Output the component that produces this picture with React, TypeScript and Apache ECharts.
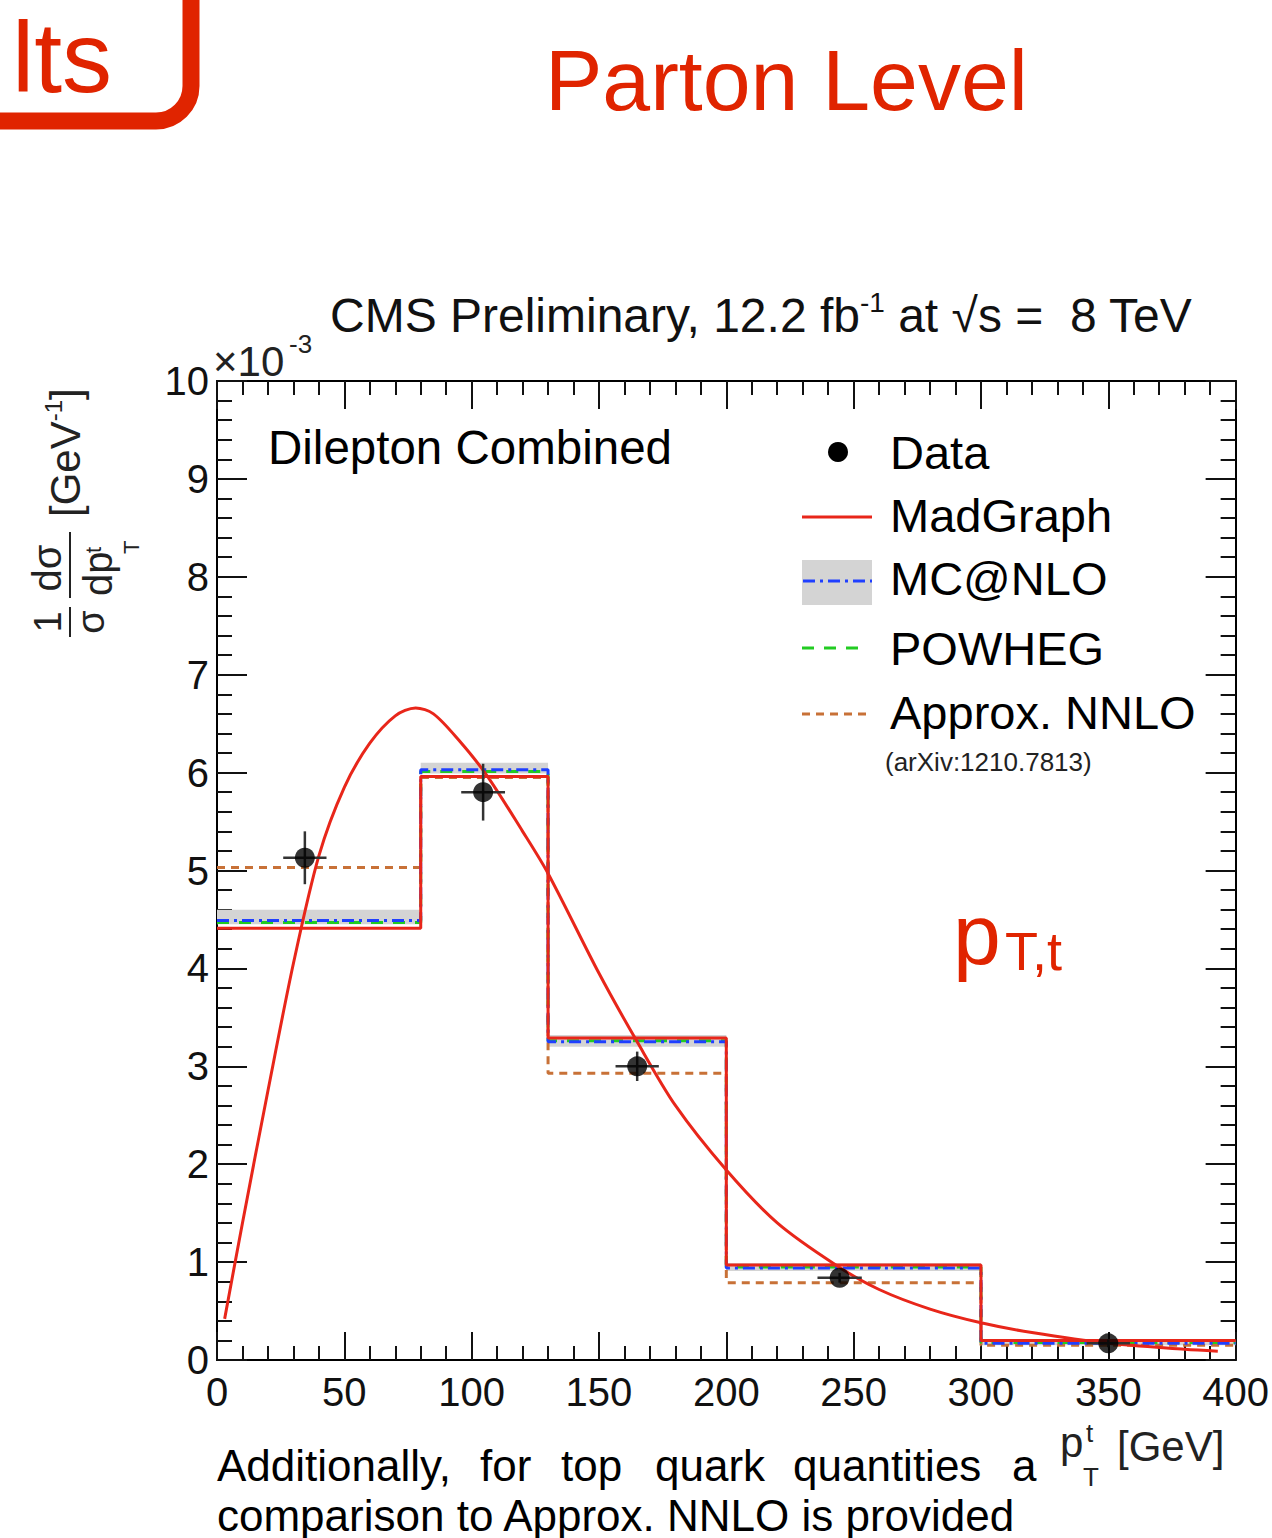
import React, { useEffect, useRef } from "react";
import * as echarts from "echarts";

const FONT = '"Liberation Sans", Arial, Helvetica, sans-serif';
const RED = "#e02400";

// Bin edges in GeV
const binEdges = [0, 80, 130, 200, 300, 400];
// Histogram values (units of 1e-3 GeV^-1)
const madgraphHist = [4.41, 5.96, 3.29, 0.97, 0.2];
const mcnloHist = [4.49, 6.03, 3.25, 0.94, 0.17];
const mcnloBandLo = [4.45, 5.99, 3.2, 0.91, 0.15];
const mcnloBandHi = [4.6, 6.1, 3.32, 0.99, 0.2];
const powhegHist = [4.47, 6.01, 3.26, 0.95, 0.18];
const nnloHist = [5.03, 5.95, 2.93, 0.79, 0.15];

// Data points
const dataX = [34.5, 104.5, 165, 244.5, 350];
const dataY = [5.13, 5.8, 3.0, 0.84, 0.17];
const dataYErr = [0.27, 0.29, 0.15, 0.05, 0.04];
const dataXErr = [8.5, 8.6, 8.5, 8.7, 8.5];

// MadGraph smooth curve
const curveX = [3, 10, 20, 30, 40, 50, 60, 70, 78, 85, 95, 106, 120, 130, 150, 165, 180, 200, 220, 243, 260, 280, 300, 320, 350, 380, 393];
const curveY = [0.42, 1.4, 2.75, 4.05, 5.15, 5.85, 6.3, 6.58, 6.66, 6.6, 6.33, 5.97, 5.4, 4.97, 3.95, 3.25, 2.6, 1.94, 1.4, 0.97, 0.72, 0.52, 0.38, 0.28, 0.17, 0.11, 0.09];

// Axis ticks
const xTicks = { min: 0, max: 400, interval: 50 };
const yTicks = { min: 0, max: 10, interval: 1 };

const stepData = (vals: number[]) =>
  binEdges.map((e, i) => [e, vals[Math.min(i, vals.length - 1)]]);

export default function App() {
  const ref = useRef<HTMLDivElement>(null);
  useEffect(() => {
    if (!ref.current) return;
    const chart = echarts.init(ref.current, null, { renderer: "svg" });

    const axisLine = { show: true, onZero: false, lineStyle: { color: "#000", width: 2 } };
    const tickStyle = { color: "#111", width: 2 };

    const bandData = mcnloBandLo.map((lo, i) => [binEdges[i], binEdges[i + 1], lo, mcnloBandHi[i]]);
    const errData = dataX.map((x, i) => [x, dataY[i], dataXErr[i], dataYErr[i]]);

    const lineSeries = (name: string, vals: number[], color: string, type: any, z: number) => ({
      name,
      type: "line",
      step: "end",
      data: stepData(vals),
      showSymbol: false,
      symbol: "none",
      lineStyle: { color, width: 3, type },
      z,
    });

    const txt = (text: string, x: number, y: number, fontSize: number, extra: any = {}) => ({
      type: "text",
      x,
      y,
      z: 100,
      style: {
        text,
        fontSize,
        fontFamily: FONT,
        fill: "#000",
        align: "left",
        verticalAlign: "middle",
        ...extra,
      },
    });

    const graphic: any[] = [
      // top-left red box fragment
      {
        type: "rect",
        shape: { x: -300, y: -60, width: 491, height: 181, r: 35 },
        style: { fill: "none", stroke: RED, lineWidth: 17 },
      },
      txt("lts", 112, 57, 100, { align: "right", fill: RED }),
      txt("Parton Level", 545, 80, 86, { fill: RED }),
      // title
      {
        type: "text",
        x: 330,
        y: 315,
        style: {
          text: "{n|CMS Preliminary, 12.2 fb}{s|-1}{n| at √s =  8 TeV}",
          verticalAlign: "middle",
          align: "left",
          rich: {
            n: { fontSize: 48, fontFamily: FONT, fill: "#111", lineHeight: 54 },
            s: { fontSize: 28, fontFamily: FONT, fill: "#111", verticalAlign: "top", lineHeight: 54 },
          },
        },
      },
      txt("×10", 213, 361, 42, { fill: "#222" }),
      txt("-3", 289, 344, 26, { fill: "#222" }),
      txt("Dilepton Combined", 268, 447, 47.5),
      // legend
      { type: "circle", shape: { cx: 838, cy: 452, r: 10 }, style: { fill: "#000" } },
      txt("Data", 890, 452, 47),
      { type: "line", shape: { x1: 802, y1: 517, x2: 872, y2: 517 }, style: { stroke: "#e8261a", lineWidth: 3 } },
      txt("MadGraph", 890, 515, 47),
      { type: "rect", shape: { x: 802, y: 560, width: 70, height: 45 }, style: { fill: "#d4d4d4" } },
      { type: "line", shape: { x1: 803, y1: 581, x2: 872, y2: 581 }, style: { stroke: "#1f3fff", lineWidth: 3, lineDash: [12, 5, 3, 5] } },
      txt("MC@NLO", 890, 578, 47),
      { type: "line", shape: { x1: 802, y1: 648, x2: 864, y2: 648 }, style: { stroke: "#22cc22", lineWidth: 3, lineDash: [12, 10] } },
      txt("POWHEG", 890, 648, 47),
      { type: "line", shape: { x1: 802, y1: 714, x2: 868, y2: 714 }, style: { stroke: "#c87137", lineWidth: 3, lineDash: [8, 6] } },
      txt("Approx. NNLO", 890, 712, 47),
      txt("(arXiv:1210.7813)", 885, 762, 26, { fill: "#222" }),
      // p_T,t annotation
      txt("p", 953, 934, 86, { fill: RED }),
      txt("T,t", 1005, 951, 54, { fill: RED }),
      // x axis title
      txt("p", 1060, 1442, 42, { fill: "#222" }),
      txt("t", 1086, 1433, 26, { fill: "#222" }),
      txt("T", 1083, 1477, 26, { fill: "#222" }),
      txt("[GeV]", 1117, 1446, 42, { fill: "#222" }),
      // y axis title (rotated group)
      {
        type: "group",
        x: 70,
        y: 640,
        rotation: Math.PI / 2,
        children: [
          { type: "line", shape: { x1: 3, y1: 0, x2: 33, y2: 0 }, style: { stroke: "#222", lineWidth: 2 } },
          txt("1", 18, -3, 38, { align: "center", verticalAlign: "bottom", fill: "#222" }),
          txt("σ", 18, 2, 38, { align: "center", verticalAlign: "top", fill: "#222" }),
          { type: "line", shape: { x1: 42, y1: 0, x2: 108, y2: 0 }, style: { stroke: "#222", lineWidth: 2 } },
          txt("dσ", 72, -3, 40, { align: "center", verticalAlign: "bottom", fill: "#222" }),
          txt("dp", 44, 8, 40, { verticalAlign: "top", fill: "#222" }),
          txt("t", 87, 12, 22, { verticalAlign: "top", fill: "#222" }),
          txt("T", 86, 50, 22, { verticalAlign: "top", fill: "#222" }),
          {
            type: "text",
            x: 123,
            y: -5,
            style: {
              text: "{n|[GeV}{s|-1}{n|]}",
              verticalAlign: "middle",
              align: "left",
              rich: {
                n: { fontSize: 42, fontFamily: FONT, fill: "#222", lineHeight: 48 },
                s: { fontSize: 24, fontFamily: FONT, fill: "#222", verticalAlign: "top", lineHeight: 48 },
              },
            },
          },
        ],
      },
      // bottom caption
      txt("Additionally,", 217, 1465, 44),
      txt("for", 480, 1465, 44),
      txt("top", 561, 1465, 44),
      txt("quark", 655, 1465, 44),
      txt("quantities", 793, 1465, 44),
      txt("a", 1012, 1465, 44),
      txt("comparison to Approx. NNLO is provided", 217, 1515, 44),
    ];

    const option: any = {
      animation: false,
      backgroundColor: "#fff",
      grid: { left: 217, top: 381, width: 1019, height: 979, containLabel: false },
      xAxis: [
        {
          type: "value",
          position: "bottom",
          ...xTicks,
          axisLine,
          axisTick: { show: true, inside: true, length: 28, lineStyle: tickStyle },
          minorTick: { show: true, splitNumber: 5, length: 14, lineStyle: tickStyle },
          axisLabel: { fontSize: 40, fontFamily: FONT, color: "#111", margin: 12 },
          splitLine: { show: false },
        },
        {
          type: "value",
          position: "top",
          ...xTicks,
          axisLine,
          axisTick: { show: true, inside: true, length: 28, lineStyle: tickStyle },
          minorTick: { show: true, splitNumber: 5, length: 14, lineStyle: tickStyle },
          axisLabel: { show: false },
          splitLine: { show: false },
        },
      ],
      yAxis: [
        {
          type: "value",
          position: "left",
          ...yTicks,
          axisLine,
          axisTick: { show: true, inside: true, length: 30, lineStyle: tickStyle },
          minorTick: { show: true, splitNumber: 5, length: 15, lineStyle: tickStyle },
          axisLabel: { fontSize: 40, fontFamily: FONT, color: "#111", margin: 8 },
          splitLine: { show: false },
        },
        {
          type: "value",
          position: "right",
          ...yTicks,
          axisLine,
          axisTick: { show: true, inside: true, length: 30, lineStyle: tickStyle },
          minorTick: { show: true, splitNumber: 5, length: 15, lineStyle: tickStyle },
          axisLabel: { show: false },
          splitLine: { show: false },
        },
      ],
      series: [
        {
          name: "MC@NLO band",
          type: "custom",
          data: bandData,
          z: 1,
          encode: { x: [0, 1], y: [2, 3] },
          renderItem: (params: any, api: any) => {
            const p1 = api.coord([api.value(0), api.value(3)]);
            const p2 = api.coord([api.value(1), api.value(2)]);
            return {
              type: "rect",
              shape: { x: p1[0], y: p1[1], width: p2[0] - p1[0], height: p2[1] - p1[1] },
              style: { fill: "#d4d4d4" },
            };
          },
        },
        lineSeries("Approx. NNLO", nnloHist, "#c87137", [8, 6], 2),
        lineSeries("POWHEG", powhegHist, "#22cc22", [12, 10], 3),
        lineSeries("MC@NLO", mcnloHist, "#1f3fff", [12, 5, 3, 5], 4),
        lineSeries("MadGraph", madgraphHist, "#e8261a", "solid", 5),
        {
          name: "MadGraph curve",
          type: "line",
          data: curveX.map((x, i) => [x, curveY[i]]),
          smooth: 0.3,
          showSymbol: false,
          symbol: "none",
          lineStyle: { color: "#e8261a", width: 3 },
          z: 6,
        },
        {
          name: "Data errors",
          type: "custom",
          data: errData,
          z: 7,
          encode: { x: 0, y: 1 },
          renderItem: (params: any, api: any) => {
            const x = api.value(0), y = api.value(1), ex = api.value(2), ey = api.value(3);
            const l = api.coord([x - ex, y]);
            const r = api.coord([x + ex, y]);
            const t = api.coord([x, y + ey]);
            const b = api.coord([x, y - ey]);
            const st = { stroke: "#333", lineWidth: 2.5 };
            return {
              type: "group",
              children: [
                { type: "line", shape: { x1: l[0], y1: l[1], x2: r[0], y2: r[1] }, style: st },
                { type: "line", shape: { x1: t[0], y1: t[1], x2: b[0], y2: b[1] }, style: st },
              ],
            };
          },
        },
        {
          name: "Data",
          type: "scatter",
          data: dataX.map((x, i) => [x, dataY[i]]),
          symbol: "circle",
          symbolSize: 20,
          itemStyle: { color: "#000" },
          z: 8,
        },
      ],
      graphic,
    };
    chart.setOption(option);
    return () => chart.dispose();
  }, []);

  return (
    <div
      ref={ref}
      style={{ position: "absolute", left: 0, top: 0, width: 1272, height: 1538, background: "#fff" }}
    />
  );
}
